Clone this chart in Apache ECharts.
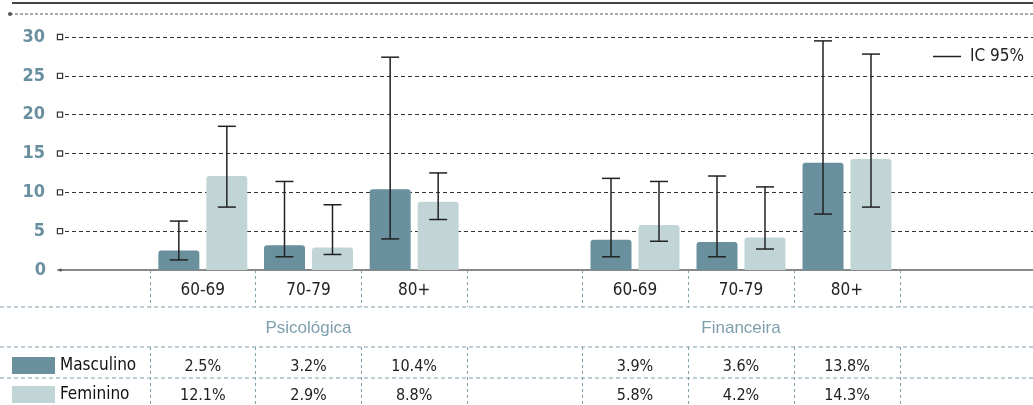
<!DOCTYPE html>
<html>
<head>
<meta charset="utf-8">
<script src="https://cdn.jsdelivr.net/npm/echarts@6/dist/echarts.min.js"></script>
<style>
  html, body { margin: 0; padding: 0; background: #fff; }
  #chart { width: 1033px; height: 405px; }
</style>
</head>
<body>
<div id="chart"></div>
<script>
// dados
const ageGroups = ['60-69', '70-79', '80+']
const domains = ['Psicológica', 'Financeira']
const mascPsic = [2.5, 3.2, 10.4]
const femPsic = [12.1, 2.9, 8.8]
const mascFin = [3.9, 3.6, 13.8]
const femFin = [5.8, 4.2, 14.3]
// IC 95% [inferior, superior]
const mascPsicCI = [[1.3, 6.3], [1.7, 11.4], [4.0, 27.4]]
const femPsicCI = [[8.1, 18.5], [2.0, 8.4], [6.5, 12.5]]
const mascFinCI = [[1.7, 11.8], [1.7, 12.1], [7.2, 29.5]]
const femFinCI = [[3.7, 11.4], [2.7, 10.7], [8.1, 27.8]]
const yMax = 30
const yStep = 5

const MASC = '#6a8f9d'
const FEM = '#c1d5d7'
const TABLE_LINE = '#7f9fab'
const COND = "'DejaVu Sans Condensed', 'Liberation Sans Narrow', sans-serif"

const myChart = echarts.init(document.getElementById('chart'))

const fmt = (arr) => arr.map((v) => v.toFixed(1) + '%')

// barras de erro (IC 95%)
const ciRender = (side) => (params, api) => {
  const x = api.value(0)
  const lo = api.coord([x, api.value(1)])
  const hi = api.coord([x, api.value(2)])
  const cx = lo[0] + side * 24
  const style = { stroke: '#222', lineWidth: 1.5 }
  return {
    type: 'group',
    children: [
      { type: 'line', shape: { x1: cx, y1: hi[1], x2: cx, y2: lo[1] }, style },
      { type: 'line', shape: { x1: cx - 9, y1: hi[1], x2: cx + 9, y2: hi[1] }, style },
      { type: 'line', shape: { x1: cx - 9, y1: lo[1], x2: cx + 9, y2: lo[1] }, style }
    ]
  }
}
const ciSeries = (ci, side, xIdx, yIdx) => ({
  type: 'custom',
  name: 'IC 95%',
  xAxisIndex: xIdx,
  yAxisIndex: yIdx,
  itemStyle: { color: '#222' },
  z: 5,
  renderItem: ciRender(side),
  data: ci.map((d, i) => [i, d[0], d[1]])
})
const barSeries = (name, data, color, xIdx, yIdx) => ({
  type: 'bar',
  name,
  xAxisIndex: xIdx,
  yAxisIndex: yIdx,
  data,
  barWidth: 41,
  barGap: '17%',
  itemStyle: { color, borderRadius: [3, 3, 0, 0] }
})

// eixos de cada grupo: idades + duas linhas da tabela
const groupAxes = (grid, name, masc, fem) => [
  {
    gridIndex: grid, type: 'category', data: ageGroups, position: 'bottom',
    name, nameLocation: 'middle', nameGap: 50,
    nameTextStyle: { color: '#7d9fac', fontSize: 17, fontFamily: "'Liberation Sans', Arial, sans-serif" },
    axisLine: { show: false },
    axisTick: { show: true, length: 37, lineStyle: { color: TABLE_LINE, type: [3, 3] } },
    axisLabel: { margin: 12, color: '#222', fontSize: 17, fontFamily: COND }
  },
  {
    gridIndex: grid, type: 'category', data: fmt(masc), position: 'bottom', offset: 77,
    axisLine: { show: false },
    axisTick: { show: true, length: 58, lineStyle: { color: TABLE_LINE, type: [3, 3] } },
    axisLabel: { margin: 12, color: '#222', fontSize: 16, fontFamily: COND }
  },
  {
    gridIndex: grid, type: 'category', data: fmt(fem), position: 'bottom', offset: 108,
    axisLine: { show: false },
    axisTick: { show: false },
    axisLabel: { margin: 10, color: '#222', fontSize: 16, fontFamily: COND }
  }
]

const hLine = (y, x1, color, dash) => ({
  type: 'line',
  shape: { x1, y1: y, x2: 1033, y2: y },
  style: { stroke: color, lineWidth: dash ? 1 : 2, lineDash: dash || null }
})

const sexLegend = (name, top) => ({
  data: [name],
  left: 12, top, padding: 0,
  itemWidth: 43, itemHeight: 17,
  icon: 'rect', selectedMode: false,
  textStyle: { color: '#111', fontSize: 17, fontFamily: COND }
})

const options = {
  animation: false,
  grid: [
    { left: 58, right: 0, top: 37, bottom: 135, outerBoundsMode: 'none' },
    { left: 150, width: 317, top: 37, bottom: 135, outerBoundsMode: 'none' },
    { left: 582, width: 318, top: 37, bottom: 135, outerBoundsMode: 'none' }
  ],
  xAxis: [
    {
      gridIndex: 0, type: 'category', data: [''], position: 'bottom',
      axisLine: { lineStyle: { color: '#888', width: 2 } },
      axisTick: { show: false },
      axisLabel: { show: false }
    },
    ...groupAxes(1, domains[0], mascPsic, femPsic),
    ...groupAxes(2, domains[1], mascFin, femFin)
  ],
  yAxis: [
    {
      gridIndex: 0, type: 'value', min: 0, max: yMax, interval: yStep,
      axisLine: { show: false },
      axisTick: { show: false },
      splitLine: { lineStyle: { color: '#333', type: [4, 3], width: 1 } },
      axisLabel: {
        margin: -4,
        formatter: (v) => v === 0 ? '{n|0}{g|}{dot|}' : '{n|' + v + '}{g|}{sq|}',
        rich: {
          n: { color: '#6a8fa0', fontSize: 18, fontWeight: 'bold', fontFamily: "'Liberation Sans Narrow', " + COND },
          g: { width: 13 },
          sq: { width: 4, height: 4, borderColor: '#333', borderWidth: 1.2, backgroundColor: '#fff' },
          dot: { width: 3, height: 3, borderRadius: 2, backgroundColor: '#555' }
        }
      }
    },
    { gridIndex: 1, type: 'value', min: 0, max: yMax, show: false },
    { gridIndex: 2, type: 'value', min: 0, max: yMax, show: false }
  ],
  legend: [
    sexLegend('Masculino', 357),
    sexLegend('Feminino', 386),
    {
      data: ['IC 95%'],
      left: 933, top: 48, padding: 0,
      itemWidth: 28, itemHeight: 1.5, itemGap: 8,
      icon: 'rect', selectedMode: false,
      textStyle: { color: '#222', fontSize: 17, fontFamily: COND, padding: [0, 0, 0, 4] }
    }
  ],
  graphic: [
    hLine(3, 12, '#444'),
    hLine(14, 10, '#555', [3, 2]),
    { type: 'circle', shape: { cx: 10, cy: 14, r: 2 }, style: { fill: '#555' } },
    hLine(307, 0, TABLE_LINE, [4, 3]),
    hLine(347, 0, TABLE_LINE, [4, 3]),
    hLine(378, 0, TABLE_LINE, [4, 3])
  ],
  series: [
    barSeries('Masculino', mascPsic, MASC, 1, 1),
    barSeries('Feminino', femPsic, FEM, 1, 1),
    barSeries('Masculino', mascFin, MASC, 4, 2),
    barSeries('Feminino', femFin, FEM, 4, 2),
    ciSeries(mascPsicCI, -1, 1, 1),
    ciSeries(femPsicCI, 1, 1, 1),
    ciSeries(mascFinCI, -1, 4, 2),
    ciSeries(femFinCI, 1, 4, 2)
  ]
}

myChart.setOption(options)
</script>
</body>
</html>
